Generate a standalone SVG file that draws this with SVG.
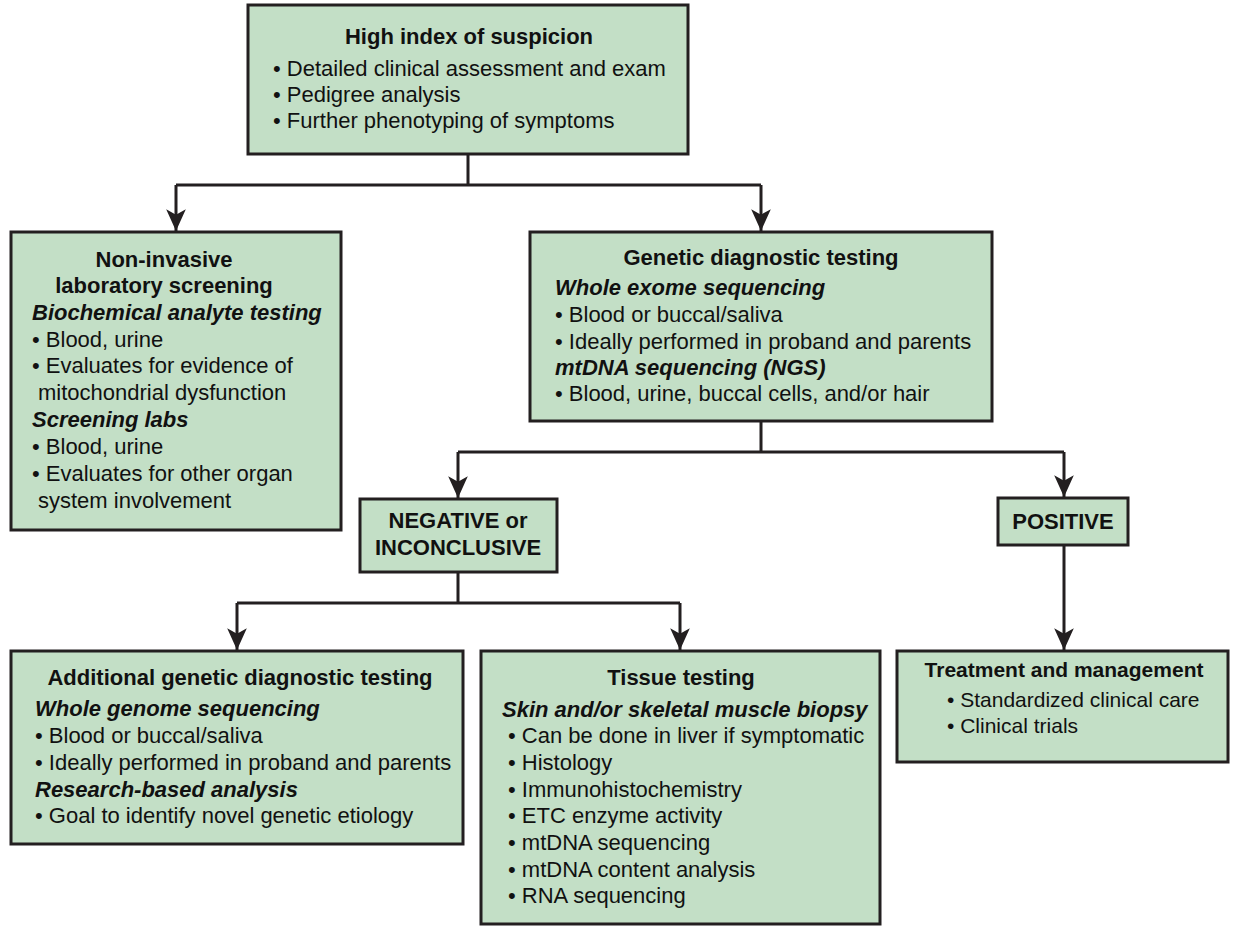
<svg xmlns="http://www.w3.org/2000/svg" width="1233" height="928" viewBox="0 0 1233 928">
<style>
.box{fill:#c3dfc6;stroke:#231f20;stroke-width:3}
.t{font-family:"Liberation Sans",Arial,sans-serif;font-size:22px;fill:#111}
.b{font-weight:bold}
.bi{font-weight:bold;font-style:italic}
.c{text-anchor:middle}
.con{fill:none;stroke:#231f20;stroke-width:3}
.arr{marker-end:url(#ah)}
</style>
<defs>
<marker id="ah" markerUnits="userSpaceOnUse" markerWidth="24" markerHeight="24" viewBox="0 -10 22 20" refX="20" refY="0" orient="auto">
<path d="M0,-9 L20,0 L0,9 L5,0 z" fill="#231f20"/>
</marker>
</defs>
<rect width="1233" height="928" fill="#fff"/>
<g id="connectors">
<path class="con" d="M468,154 V185 M176,185 H761"/>
<path class="con arr" d="M176,185 V231"/>
<path class="con arr" d="M761,185 V231"/>
<path class="con" d="M761,421 V452 M458,452 H1064"/>
<path class="con arr" d="M458,452 V498"/>
<path class="con arr" d="M1064,452 V497"/>
<path class="con" d="M458,572 V603 M237,603 H680"/>
<path class="con arr" d="M237,603 V650"/>
<path class="con arr" d="M680,603 V650"/>
<path class="con arr" d="M1064,545 V650"/>
</g>
<g id="suspicion">
<rect class="box" x="248" y="5" width="440" height="149"/>
<text class="t b c" x="469" y="44">High index of suspicion</text>
<text class="t" x="273" y="76">• Detailed clinical assessment and exam</text>
<text class="t" x="273" y="102">• Pedigree analysis</text>
<text class="t" x="273" y="128">• Further phenotyping of symptoms</text>
</g>
<g id="noninvasive">
<rect class="box" x="11" y="232" width="330" height="298"/>
<text class="t b c" x="164" y="267">Non-invasive</text>
<text class="t b c" x="164" y="293">laboratory screening</text>
<text class="t bi" x="32" y="320">Biochemical analyte testing</text>
<text class="t" x="32" y="347">• Blood, urine</text>
<text class="t" x="32" y="373">• Evaluates for evidence of</text>
<text class="t" x="38" y="400">mitochondrial dysfunction</text>
<text class="t bi" x="32" y="427">Screening labs</text>
<text class="t" x="32" y="454">• Blood, urine</text>
<text class="t" x="32" y="481">• Evaluates for other organ</text>
<text class="t" x="38" y="508">system involvement</text>
</g>
<g id="genetic">
<rect class="box" x="530" y="232" width="462" height="189"/>
<text class="t b c" x="761" y="265">Genetic diagnostic testing</text>
<text class="t bi" x="555" y="295">Whole exome sequencing</text>
<text class="t" x="555" y="322">• Blood or buccal/saliva</text>
<text class="t" x="555" y="349">• Ideally performed in proband and parents</text>
<text class="t bi" x="555" y="375">mtDNA sequencing (NGS)</text>
<text class="t" x="555" y="401">• Blood, urine, buccal cells, and/or hair</text>
</g>
<g id="negative">
<rect class="box" x="360" y="499" width="197" height="73"/>
<text class="t b c" x="458" y="528">NEGATIVE or</text>
<text class="t b c" x="458" y="555">INCONCLUSIVE</text>
</g>
<g id="positive">
<rect class="box" x="998" y="498" width="130" height="47"/>
<text class="t b c" x="1063" y="529">POSITIVE</text>
</g>
<g id="additional">
<rect class="box" x="11" y="651" width="452" height="193"/>
<text class="t b c" x="240" y="685">Additional genetic diagnostic testing</text>
<text class="t bi" x="35" y="716">Whole genome sequencing</text>
<text class="t" x="35" y="743">• Blood or buccal/saliva</text>
<text class="t" x="35" y="770">• Ideally performed in proband and parents</text>
<text class="t bi" x="35" y="797">Research-based analysis</text>
<text class="t" x="35" y="823">• Goal to identify novel genetic etiology</text>
</g>
<g id="tissue">
<rect class="box" x="481" y="651" width="399" height="273"/>
<text class="t b c" x="681" y="685">Tissue testing</text>
<text class="t bi" x="502" y="717">Skin and/or skeletal muscle biopsy</text>
<text class="t" x="508" y="743">• Can be done in liver if symptomatic</text>
<text class="t" x="508" y="770">• Histology</text>
<text class="t" x="508" y="797">• Immunohistochemistry</text>
<text class="t" x="508" y="823">• ETC enzyme activity</text>
<text class="t" x="508" y="850">• mtDNA sequencing</text>
<text class="t" x="508" y="877">• mtDNA content analysis</text>
<text class="t" x="508" y="903">• RNA sequencing</text>
</g>
<g id="treatment">
<rect class="box" x="897" y="651" width="331" height="111"/>
<text class="t b c" x="1064" y="677" style="font-size:21px">Treatment and management</text>
<text class="t" x="947" y="707" style="font-size:21px">• Standardized clinical care</text>
<text class="t" x="947" y="733" style="font-size:21px">• Clinical trials</text>
</g>
</svg>
